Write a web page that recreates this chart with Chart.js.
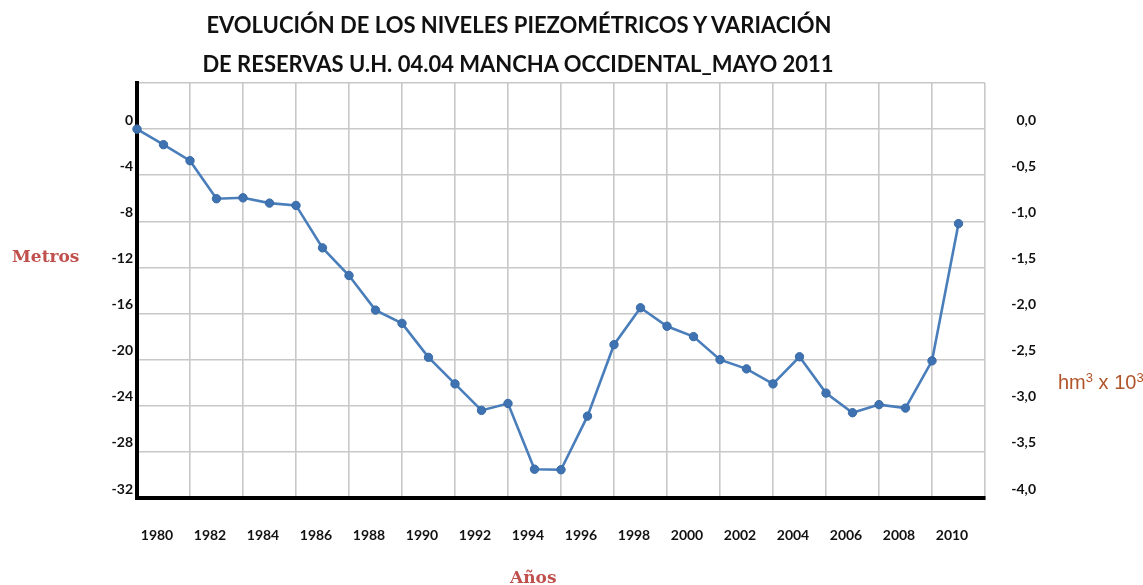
<!DOCTYPE html>
<html>
<head>
<meta charset="utf-8">
<script src="https://cdn.jsdelivr.net/npm/chart.js@4/dist/chart.umd.min.js"></script>
<style>
  html, body { margin: 0; padding: 0; background: #ffffff; }
  #wrap { position: relative; width: 1143px; height: 585px; overflow: hidden; }
  canvas { position: absolute; left: 0; top: 0; }
  .t { position: absolute; white-space: nowrap; }
  .title { font-family: Lato, "Open Sans", sans-serif; font-weight: 700; font-size: 22px; color: #111; line-height: 22px; transform: translateX(-50%); }
  .axl { font-family: "DejaVu Serif", serif; font-weight: 700; font-size: 17px; color: #c0504d; line-height: 18px; }
  .unit { font-family: "Liberation Sans", Arial, sans-serif; font-size: 20px; color: #b0542a; line-height: 20px; }
  .unit sup { font-size: 13px; vertical-align: 7px; line-height: 0; }
</style>
</head>
<body>
<div id="wrap">
  <canvas id="c" width="1143" height="585"></canvas>
  <div class="t title" style="left:519px; top:14px;">EVOLUCIÓN DE LOS NIVELES PIEZOMÉTRICOS Y VARIACIÓN</div>
  <div class="t title" style="left:518px; top:53px;">DE RESERVAS U.H. 04.04 MANCHA OCCIDENTAL_MAYO 2011</div>
  <div class="t axl" style="left:12px; top:247px;">Metros</div>
  <div class="t axl" style="left:510px; top:568px;">Años</div>
  <div class="t unit" style="left:1058px; top:372px;">hm<sup>3</sup> x 10<sup>3</sup></div>
</div>
<script>
// ---- data ----
const years = [1980, 1981, 1982, 1983, 1984, 1985, 1986, 1987, 1988, 1989,
               1990, 1991, 1992, 1993, 1994, 1995, 1996, 1997, 1998, 1999,
               2000, 2001, 2002, 2003, 2004, 2005, 2006, 2007, 2008, 2009,
               2010, 2011];
const levels = [0, -1.35, -2.74, -6.04, -5.96, -6.42, -6.62, -10.3, -12.7, -15.7,
                -16.85, -19.8, -22.1, -24.4, -23.8, -29.5, -29.55, -24.9, -18.7, -15.5,
                -17.1, -18.0, -20.0, -20.8, -22.1, -19.75, -22.9, -24.6, -23.9, -24.2,
                -20.1, -8.2];
const xTickYears = [1980, 1982, 1984, 1986, 1988, 1990, 1992, 1994, 1996, 1998,
                    2000, 2002, 2004, 2006, 2008, 2010];
const leftTicks = [0, -4, -8, -12, -16, -20, -24, -28, -32];
const rightTicks = ['0,0', '-0,5', '-1,0', '-1,5', '-2,0', '-2,5', '-3,0', '-3,5', '-4,0'];

const points = years.map((y, i) => ({ x: y, y: levels[i] }));
const gridColor = '#c8c8c8';
const tickFont = { family: 'Lato, "Open Sans", sans-serif', size: 14, weight: 'bold' };

new Chart(document.getElementById('c'), {
  type: 'line',
  data: {
    datasets: [{
      data: points,
      yAxisID: 'y',
      borderColor: '#4a7ebb',
      borderWidth: 2.6,
      backgroundColor: '#3f72b0',
      pointBackgroundColor: '#3f72b0',
      pointBorderColor: '#386aa6',
      pointRadius: 4.2,
      pointBorderWidth: 1,
      tension: 0,
      clip: false
    }]
  },
  options: {
    responsive: false,
    animation: false,
    events: [],
    layout: { padding: { top: 83, left: 0, right: 107, bottom: 0 } },
    plugins: { legend: { display: false }, title: { display: false }, tooltip: { enabled: false } },
    scales: {
      x: {
        type: 'linear',
        position: 'bottom',
        min: 1980, max: 2012,
        afterFit: s => { s.height = 87; },
        border: { display: true, color: '#000', width: 4 },
        grid: { color: gridColor, lineWidth: 1.6, drawTicks: false },
        ticks: {
          stepSize: 2,
          padding: 29,
          labelOffset: 20,
          maxRotation: 0,
          autoSkip: false,
          color: '#111',
          font: tickFont,
          callback: v => xTickYears.includes(v) ? String(v) : ''
        }
      },
      y: {
        type: 'linear',
        position: 'left',
        min: -32, max: 4,
        afterFit: s => { s.width = 137; },
        border: { display: true, color: '#000', width: 4 },
        grid: { color: gridColor, lineWidth: 1.6, drawTicks: false },
        ticks: {
          stepSize: 4,
          padding: 4,
          labelOffset: -9,
          color: '#111',
          font: tickFont,
          callback: v => leftTicks.includes(v) ? String(v) : ''
        }
      },
      y2: {
        type: 'linear',
        position: 'right',
        min: -4, max: 0.5,
        afterFit: s => { s.width = 51; },
        border: { display: false },
        grid: { drawOnChartArea: false, drawTicks: false },
        ticks: {
          stepSize: 0.5,
          padding: 25,
          labelOffset: -9,
          crossAlign: 'far',
          color: '#111',
          font: tickFont,
          callback: v => {
            const idx = Math.round(-v / 0.5);
            return (v <= 0 && idx >= 0 && idx < rightTicks.length) ? rightTicks[idx] : '';
          }
        }
      }
    }
  }
});
</script>
</body>
</html>
